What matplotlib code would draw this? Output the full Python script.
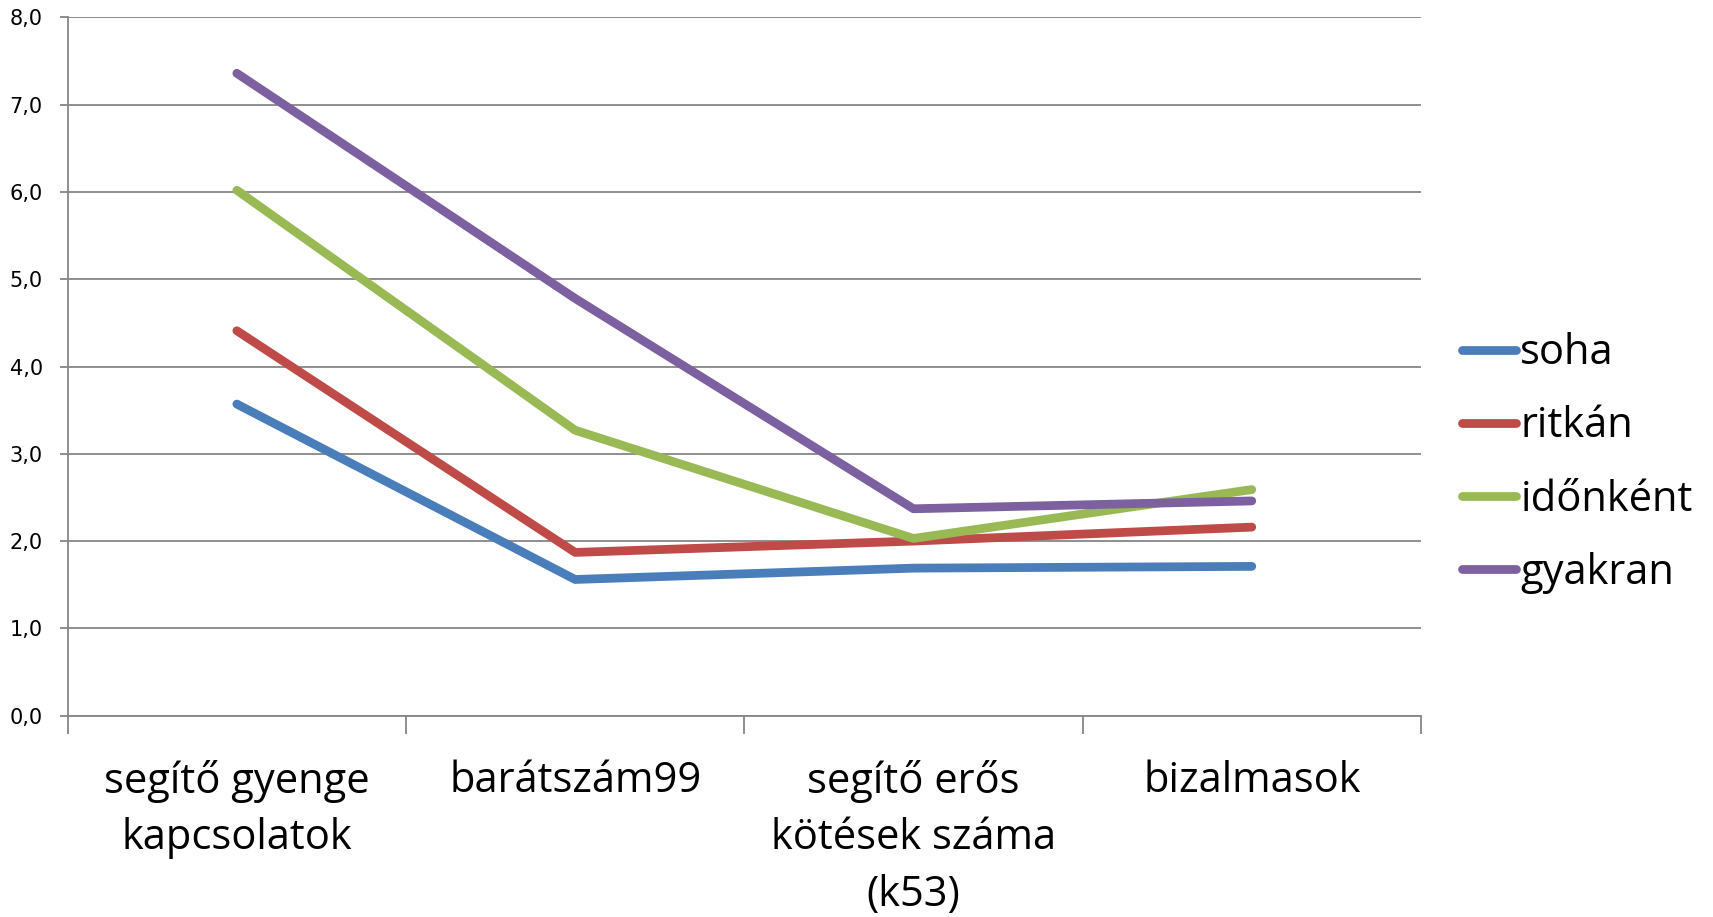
import matplotlib.pyplot as plt
import numpy as np

categories = ['segítő gyenge\nkapcsolatok', 'barátszám99',
              'segítő erős\nkötések száma\n(k53)', 'bizalmasok']
series_names = ['soha', 'ritkán', 'időnként', 'gyakran']
soha = [3.57, 1.56, 1.69, 1.71]
ritkan = [4.41, 1.87, 2.00, 2.16]
idonkent = [6.02, 3.27, 2.03, 2.59]
gyakran = [7.36, 4.78, 2.37, 2.46]
colors = ['#4A7EBB', '#BE4B48', '#98B954', '#7D60A0']

fig = plt.figure(figsize=(17.13, 9.17), dpi=100)
ax = fig.add_axes([0.0395, 0.2196, 0.79, 0.7614])

x = np.arange(len(categories))
for vals, name, c in zip([soha, ritkan, idonkent, gyakran], series_names, colors):
    ax.plot(x, vals, color=c, lw=6.3, solid_capstyle='round',
            solid_joinstyle='round', label=name)

ax.set_xlim(-0.5, 3.5)
ax.set_ylim(0, 8)
ax.set_yticks(np.arange(0, 9, 1))
ax.set_yticklabels([f'{v:.1f}'.replace('.', ',') for v in np.arange(0, 9, 1)],
                   fontsize=15, family='DejaVu Sans')
ax.grid(axis='y', color='#868686', lw=1.3)
ax.set_axisbelow(True)

ax.set_xticks(x)
ax.set_xticklabels(categories, fontsize=30, family='Open Sans', linespacing=1.45)
ax.set_xticks(np.arange(-0.5, 4, 1), minor=True)
ax.tick_params(axis='x', which='major', length=0, pad=32)
ax.tick_params(axis='x', which='minor', length=13, color='#868686', width=1.3)
ax.tick_params(axis='y', length=6, color='#868686', width=1.3, pad=12)

for s in ['top', 'right']:
    ax.spines[s].set_visible(False)
for s in ['left', 'bottom']:
    ax.spines[s].set_color('#868686')
    ax.spines[s].set_linewidth(1.3)

fig.legend(loc='center left', bbox_to_anchor=(0.8535, 0.495), frameon=False,
           prop={'family': 'Open Sans', 'size': 30}, handlelength=1.3,
           handletextpad=0.1, labelspacing=0.75, borderpad=0, borderaxespad=0)

fig.savefig('out.png', dpi=100)
